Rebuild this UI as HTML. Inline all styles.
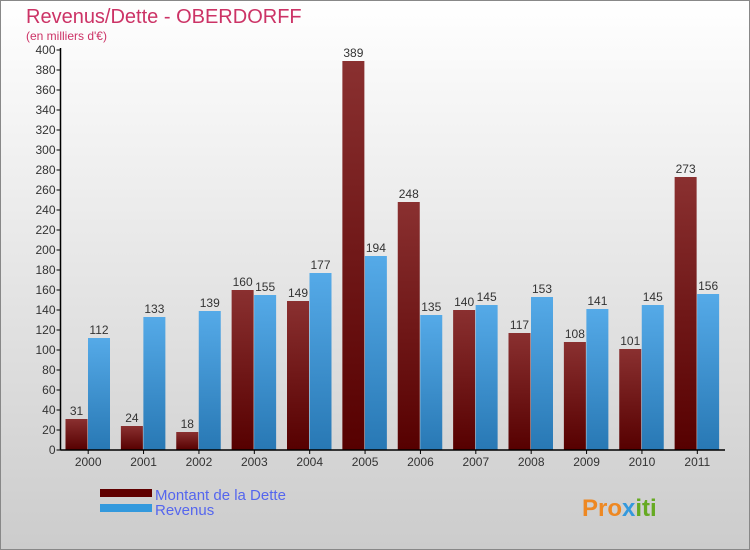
<!DOCTYPE html>
<html><head><meta charset="utf-8"><style>
body{margin:0}
#c{width:750px;height:550px;position:relative;overflow:hidden;font-family:"Liberation Sans",sans-serif}
</style></head><body>
<div id="c">
<svg id="s" width="750" height="550" xmlns="http://www.w3.org/2000/svg">
<defs>
<linearGradient id="bg" x1="0" y1="0" x2="0" y2="1"><stop offset="0" stop-color="#ffffff"/><stop offset="1" stop-color="#cccccc"/></linearGradient>
<linearGradient id="gd" x1="0" y1="0" x2="0" y2="1"><stop offset="0" stop-color="#8a3030"/><stop offset="1" stop-color="#560000"/></linearGradient>
<linearGradient id="gr" x1="0" y1="0" x2="0" y2="1"><stop offset="0" stop-color="#55aae8"/><stop offset="1" stop-color="#2878b4"/></linearGradient>
</defs>
<rect x="0.5" y="0.5" width="749" height="549" fill="url(#bg)" stroke="#888"/>
<text x="26" y="23" font-size="20" fill="#cc3366">Revenus/Dette - OBERDORFF</text>
<text x="26" y="40" font-size="12" fill="#cc3366">(en milliers d'€)</text>
<g id="plot"></g>
<rect x="100" y="489" width="52" height="8" fill="#600000"/>
<text x="155" y="500" font-size="15" fill="#5566ee">Montant de la Dette</text>
<rect x="100" y="504" width="52" height="8" fill="#3399dd"/>
<text x="155" y="515" font-size="15" fill="#5566ee">Revenus</text>
<text x="582" y="516" font-size="24" font-weight="bold" fill="#ee8822">Pro<tspan fill="#3399dd">x</tspan><tspan fill="#66aa22">iti</tspan></text>
</svg>
</div>
<script>
const years=["2000","2001","2002","2003","2004","2005","2006","2007","2008","2009","2010","2011"];
const dette=[31,24,18,160,149,389,248,140,117,108,101,273];
const revenus=[112,133,139,155,177,194,135,145,153,141,145,156];
const yTicks=[0,20,40,60,80,100,120,140,160,180,200,220,240,260,280,300,320,340,360,380,400];
const NS="http://www.w3.org/2000/svg";
const g=document.getElementById('plot');
const x0=60.5,x1=725,y0=450,yTop=50,yMax=400;
const sw=(x1-x0)/years.length;
const Y=v=>y0-(v/yMax)*(y0-yTop);
const X=i=>x0+i*sw;
function mk(t,a){const e=document.createElementNS(NS,t);for(const k in a)e.setAttribute(k,a[k]);g.appendChild(e);return e;}
yTicks.forEach(v=>{
 const l=mk('line',{x1:x0-4,x2:x0,y1:Y(v),y2:Y(v),stroke:'#000'});
 
 
 const t=mk('text',{x:x0-5,y:Y(v)+4,'font-size':12,fill:'#333','text-anchor':'end'});t.textContent=v;
 
 
});
years.forEach((yr,i)=>{
 const bx=X(i)+5;
 const b1=mk('rect',{x:bx,y:Y(dette[i]),width:22,height:y0-Y(dette[i]),fill:'url(#gd)'});
 
 
 const b2=mk('rect',{x:bx+22.5,y:Y(revenus[i]),width:22,height:y0-Y(revenus[i]),fill:'url(#gr)'});
 
 
 const t1=mk('text',{x:bx+11,y:Y(dette[i])-4,'font-size':12,fill:'#333','text-anchor':'middle'});t1.textContent=dette[i];
 
 
 const t2=mk('text',{x:bx+33.5,y:Y(revenus[i])-4,'font-size':12,fill:'#333','text-anchor':'middle'});t2.textContent=revenus[i];
 
 
 const tk=mk('line',{x1:X(i)+sw/2,x2:X(i)+sw/2,y1:y0,y2:y0+4,stroke:'#000'});
 
 
 const xl=mk('text',{x:X(i)+sw/2,y:y0+16,'font-size':12,fill:'#333','text-anchor':'middle'});xl.textContent=yr;
 
 
});
const ya=mk('line',{x1:x0,x2:x0,y1:yTop-2,y2:y0,stroke:'#000','stroke-width':1.5});


const xa=mk('line',{x1:x0,x2:x1,y1:y0,y2:y0,stroke:'#000','stroke-width':1.5});


</script>
</body></html>
